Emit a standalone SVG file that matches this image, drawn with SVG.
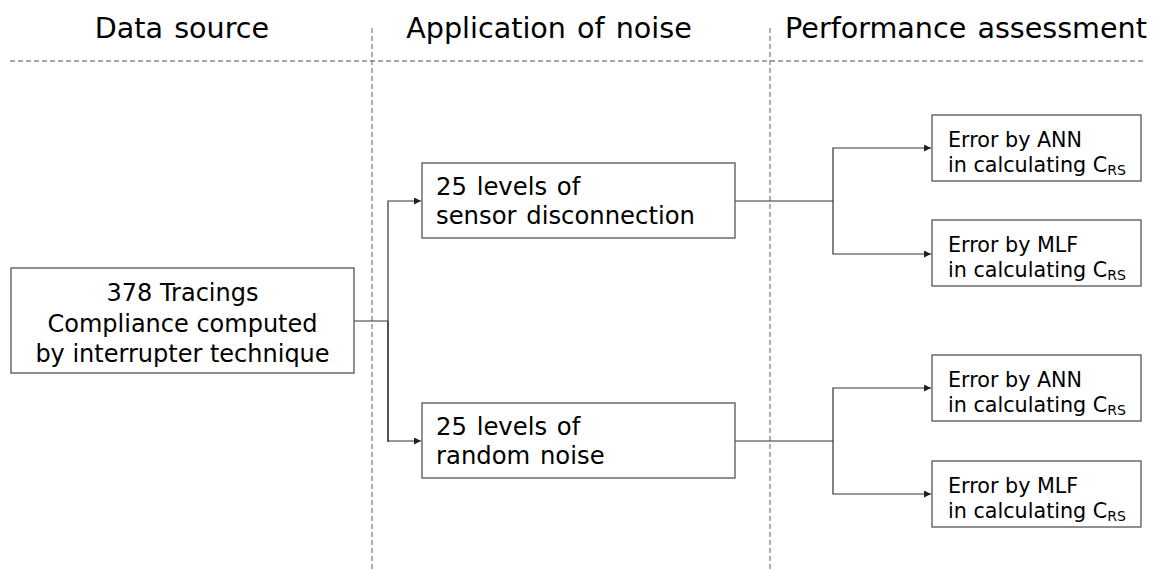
<svg xmlns="http://www.w3.org/2000/svg" width="1153" height="570" viewBox="0 0 1153 570">
<style>
text{font-family:"DejaVu Sans",Verdana,sans-serif;fill:#000}
.h{font-size:28.6px;text-anchor:middle;word-spacing:2px}
.b{font-size:24px}
.m{font-size:24.3px;word-spacing:2px}
.s{font-size:20.7px}
.sub{font-size:14px}
.box{fill:#fff;stroke:#555;stroke-width:1.3}
.dash{stroke:#888;stroke-width:1.3;stroke-dasharray:5,3;fill:none}
.con{stroke:#333;stroke-width:1.2;fill:none}
</style>
<defs>
<marker id="ar" viewBox="0 0 10 10" refX="10" refY="5" markerWidth="7" markerHeight="7" markerUnits="userSpaceOnUse" orient="auto">
<path d="M0,0 L10,5 L0,10 z" fill="#222"/>
</marker>
</defs>
<rect width="1153" height="570" fill="#fff"/>
<g id="headers">
<text class="h" x="182" y="38">Data source</text>
<text class="h" x="549" y="38">Application of noise</text>
<text class="h" x="966" y="38">Performance assessment</text>
</g>
<g id="dividers">
<line class="dash" x1="10" y1="61" x2="1145" y2="61"/>
<line class="dash" x1="372" y1="28" x2="372" y2="570"/>
<line class="dash" x1="770" y1="28" x2="770" y2="570"/>
</g>
<g id="connectors">
<path class="con" d="M354,321 H388"/>
<path class="con" d="M388,442 V201 H421" marker-end="url(#ar)"/>
<path class="con" d="M388,321 V441 H421" marker-end="url(#ar)"/>
<path class="con" d="M735,201 H833"/>
<path class="con" d="M833,201 V148 H931" marker-end="url(#ar)"/>
<path class="con" d="M833,201 V254 H931" marker-end="url(#ar)"/>
<path class="con" d="M735,441 H833"/>
<path class="con" d="M833,441 V388 H931" marker-end="url(#ar)"/>
<path class="con" d="M833,441 V494 H931" marker-end="url(#ar)"/>
</g>
<g id="source">
<rect class="box" x="11" y="268" width="343" height="105"/>
<text class="b" x="182.5" y="301" text-anchor="middle">378 Tracings</text>
<text class="b" x="182.5" y="332" text-anchor="middle">Compliance computed</text>
<text class="b" x="182.5" y="362" text-anchor="middle">by interrupter technique</text>
</g>
<g id="sensor">
<rect class="box" x="422" y="163" width="313" height="75"/>
<text class="m" x="436" y="195">25 levels of</text>
<text class="m" x="436" y="224">sensor disconnection</text>
</g>
<g id="random">
<rect class="box" x="422" y="403" width="313" height="75"/>
<text class="m" x="436" y="435">25 levels of</text>
<text class="m" x="436" y="464">random noise</text>
</g>
<g id="ann1">
<rect class="box" x="932" y="115" width="209" height="66"/>
<text class="s" x="948" y="147">Error by ANN</text>
<text class="s" x="948" y="172">in calculating C<tspan class="sub" dy="3">RS</tspan></text>
</g>
<g id="mlf1">
<rect class="box" x="932" y="220" width="209" height="66"/>
<text class="s" x="948" y="252">Error by MLF</text>
<text class="s" x="948" y="277">in calculating C<tspan class="sub" dy="3">RS</tspan></text>
</g>
<g id="ann2">
<rect class="box" x="932" y="355" width="209" height="66"/>
<text class="s" x="948" y="387">Error by ANN</text>
<text class="s" x="948" y="412">in calculating C<tspan class="sub" dy="3">RS</tspan></text>
</g>
<g id="mlf2">
<rect class="box" x="932" y="461" width="209" height="66"/>
<text class="s" x="948" y="493">Error by MLF</text>
<text class="s" x="948" y="518">in calculating C<tspan class="sub" dy="3">RS</tspan></text>
</g>
</svg>
